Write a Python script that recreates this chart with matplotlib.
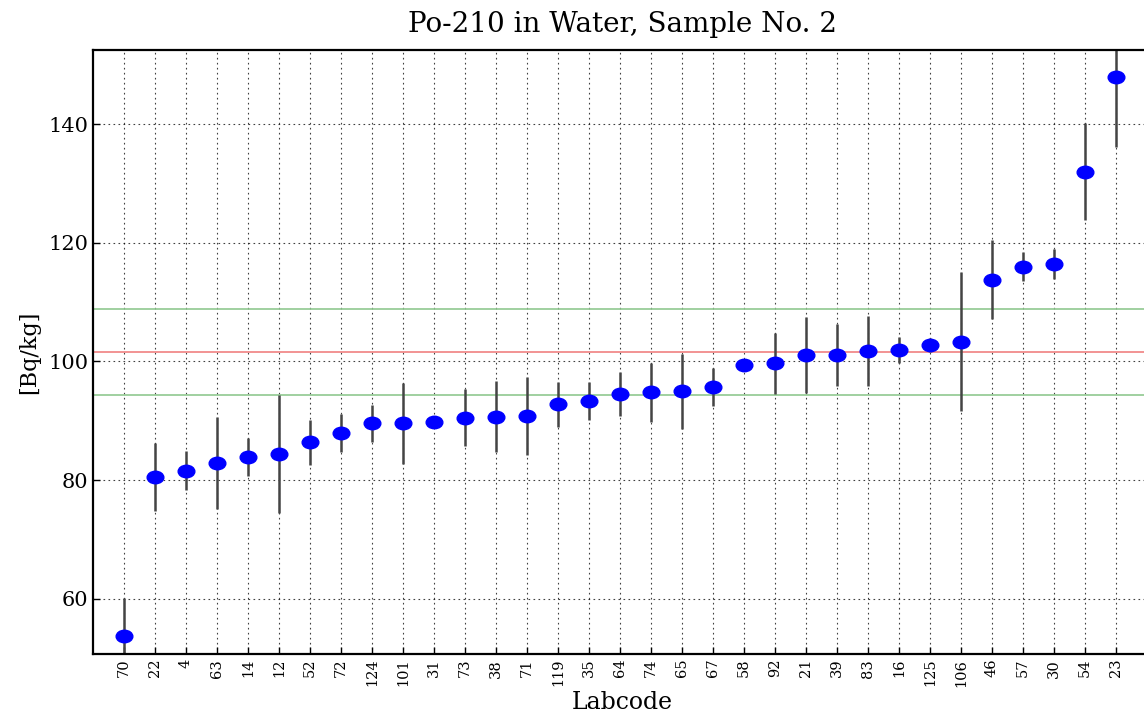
import numpy as np
import matplotlib
matplotlib.use("Agg")
import matplotlib.pyplot as plt
from matplotlib.path import Path

# labcodes, sorted by value
labcodes = ["70", "22", "4", "63", "14", "12", "52", "72", "124", "101", "31", "73",
            "38", "71", "119", "35", "64", "74", "65", "67", "58", "92", "21", "39",
            "83", "16", "125", "106", "46", "57", "30", "54", "23"]
values = [53.8, 80.5, 81.6, 82.9, 83.9, 84.4, 86.4, 88.0, 89.6, 89.6, 89.8, 90.5,
          90.7, 90.8, 92.8, 93.4, 94.5, 94.8, 95.0, 95.7, 99.4, 99.7, 101.1, 101.1,
          101.7, 101.9, 102.8, 103.3, 113.8, 116.0, 116.4, 132.0, 148.0]
uncert = [6.3, 5.7, 3.3, 7.8, 3.2, 9.9, 3.8, 3.2, 3.1, 6.8, 0.8, 4.8,
          6.0, 6.6, 3.8, 3.2, 3.7, 5.0, 6.3, 3.2, 0.5, 5.1, 6.4, 5.2,
          5.9, 2.2, 1.2, 11.7, 6.6, 2.5, 2.5, 8.2, 11.8]

ref_value = 101.6
ref_unc = 7.24

# picture looks stretched sideways, so the dots are a bit oval
circ = Path.unit_circle()
oval = Path(circ.vertices * np.array([1.0, 0.75]), circ.codes)

fig = plt.figure(figsize=(11.44, 7.18), dpi=100)
# right edge runs off the canvas like in the original crop
ax = fig.add_axes([93/1144, 1-654/718, 1067/1144, 604/718])

x = np.arange(len(labcodes))

ax.axhline(ref_value, color="#f08080", lw=1.2, zorder=1)
ax.axhline(ref_value + ref_unc, color="#90c890", lw=1.2, zorder=1)
ax.axhline(ref_value - ref_unc, color="#90c890", lw=1.2, zorder=1)

ax.errorbar(x, values, yerr=uncert, fmt="none", ecolor="#444444",
            elinewidth=1.8, capsize=0, zorder=2)
ax.plot(x, values, linestyle="none", marker=oval, ms=12, color="blue", zorder=3)

ax.set_xlim(-1, 33.42)
ax.set_ylim(50.7, 152.5)
ax.set_xticks(x)
ax.set_xticklabels(labcodes, rotation=90, fontsize=10.5, family="DejaVu Serif")
ax.set_yticks([60, 80, 100, 120, 140])
for lbl in ax.get_yticklabels():
    lbl.set_family("DejaVu Serif")
    lbl.set_fontsize(15)

ax.grid(True, color="black", linestyle=(0, (1.5, 3)), lw=0.8, alpha=0.75)
ax.set_axisbelow(True)
ax.tick_params(direction="in", length=5, width=1)
for s in ax.spines.values():
    s.set_linewidth(1.6)

ax.set_title("Po-210 in Water, Sample No. 2", fontsize=20, family="DejaVu Serif",
             pad=13, x=(623 - 93)/1067)
ax.set_xlabel("Labcode", fontsize=17, family="DejaVu Serif")
ax.xaxis.set_label_coords((622 - 93)/1067, -0.062)
ax.set_ylabel("[Bq/kg]", fontsize=16, family="DejaVu Serif", labelpad=6)

fig.savefig("out.png", dpi=100)
